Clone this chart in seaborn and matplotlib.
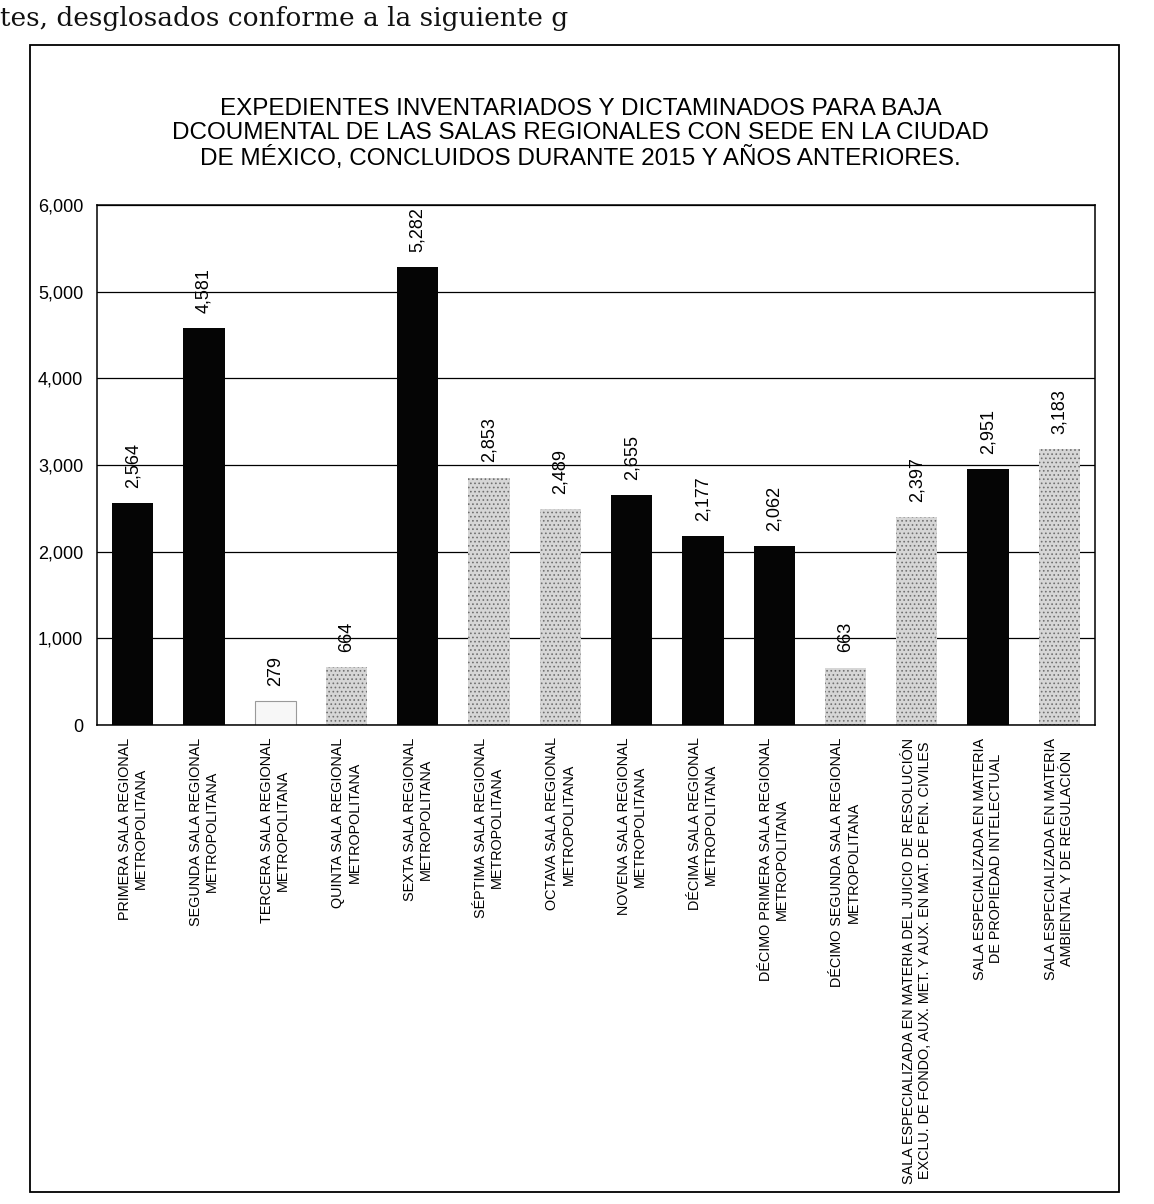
import matplotlib
matplotlib.use("Agg")
import matplotlib.pyplot as plt
from matplotlib.patches import Rectangle
import seaborn as sns

categories = [
    "PRIMERA SALA REGIONAL\nMETROPOLITANA",
    "SEGUNDA SALA REGIONAL\nMETROPOLITANA",
    "TERCERA SALA REGIONAL\nMETROPOLITANA",
    "QUINTA SALA REGIONAL\nMETROPOLITANA",
    "SEXTA SALA REGIONAL\nMETROPOLITANA",
    "SÉPTIMA SALA REGIONAL\nMETROPOLITANA",
    "OCTAVA SALA REGIONAL\nMETROPOLITANA",
    "NOVENA SALA REGIONAL\nMETROPOLITANA",
    "DÉCIMA SALA REGIONAL\nMETROPOLITANA",
    "DÉCIMO PRIMERA SALA REGIONAL\nMETROPOLITANA",
    "DÉCIMO SEGUNDA SALA REGIONAL\nMETROPOLITANA",
    "SALA ESPECIALIZADA EN MATERIA DEL JUICIO DE RESOLUCIÓN\nEXCLU. DE FONDO, AUX. MET. Y AUX. EN MAT. DE PEN. CIVILES",
    "SALA ESPECIALIZADA EN MATERIA\nDE PROPIEDAD INTELECTUAL",
    "SALA ESPECIALIZADA EN MATERIA\nAMBIENTAL Y DE REGULACIÓN",
]
values = [2564, 4581, 279, 664, 5282, 2853, 2489, 2655, 2177, 2062, 663, 2397, 2951, 3183]
y_ticks = [0, 1000, 2000, 3000, 4000, 5000, 6000]

title = ("EXPEDIENTES INVENTARIADOS Y DICTAMINADOS PARA BAJA\n"
         "DCOUMENTAL DE LAS SALAS REGIONALES CON SEDE EN LA CIUDAD\n"
         "DE MÉXICO, CONCLUIDOS DURANTE 2015 Y AÑOS ANTERIORES.")
page_text = "tes, desglosados conforme a la siguiente g"

# bar styles (black / speckled gray / white)
styles = ["k", "k", "w", "g", "k", "g", "g", "k", "k", "k", "g", "g", "k", "g"]
style_colors = {"k": "#050505", "g": "#d6d6d6", "w": "#f7f7f7"}
bar_colors = [style_colors[s] for s in styles]

sns.set_theme(style="white")
plt.rcParams["font.family"] = ["Liberation Sans", "DejaVu Sans"]
plt.rcParams["hatch.linewidth"] = 0.7
plt.rcParams["text.color"] = "black"
plt.rcParams["xtick.color"] = "black"
plt.rcParams["ytick.color"] = "black"

W, H = 1154, 1204
fig = plt.figure(figsize=(W / 100, H / 100), dpi=100)

# page text above the chart
fig.text(0.0, 1 - 26 / H, page_text, fontsize=19, family=["DejaVu Serif"],
         ha="left", va="baseline", color="#111111")

# outer frame of the embedded chart
fx0, fx1, fy0, fy1 = 30, 1119, 45, 1192
fig.patches.append(Rectangle((fx0 / W, 1 - fy1 / H), (fx1 - fx0) / W, (fy1 - fy0) / H,
                             transform=fig.transFigure, fill=False,
                             edgecolor="black", lw=1.3))

fig.text(0.503, 1 - 134 / H, title, ha="center", va="center", fontsize=17.5,
         linespacing=1.13, color="black")

ax = fig.add_axes([97 / W, 1 - 725 / H, (1095 - 97) / W, (725 - 205) / H])
sns.barplot(x=categories, y=values, hue=categories, palette=bar_colors,
            legend=False, width=0.58, saturation=1, ax=ax, linewidth=0)

for patch, s in zip(ax.patches, styles):
    if s == "g":
        patch.set_hatch("....")
        patch.set_edgecolor("#707070")
        patch.set_linewidth(0)
    elif s == "w":
        patch.set_edgecolor("#9a9a9a")
        patch.set_linewidth(0.8)

for cont, v in zip(ax.containers, values):
    ax.bar_label(cont, labels=[f"{v:,}"], rotation=90, padding=11, fontsize=13,
                 color="black")

ax.set_ylim(0, 6000)
ax.set_yticks(y_ticks)
ax.set_yticklabels([f"{t:,}" for t in y_ticks], fontsize=13)
ax.yaxis.grid(True, color="black", lw=0.9)
ax.set_axisbelow(True)
ax.tick_params(axis="y", length=0, pad=10)
ax.tick_params(axis="x", length=0, pad=9)
ax.set_xticks(range(len(categories)))
ax.set_xticklabels(categories, rotation=90, fontsize=10.4, ha="center", va="top",
                   multialignment="center")
for sp in ax.spines.values():
    sp.set_visible(True)
    sp.set_color("black")
    sp.set_linewidth(1.1)
ax.set_xlabel("")
ax.set_ylabel("")

fig.savefig("out.png", dpi=100, facecolor="white")
